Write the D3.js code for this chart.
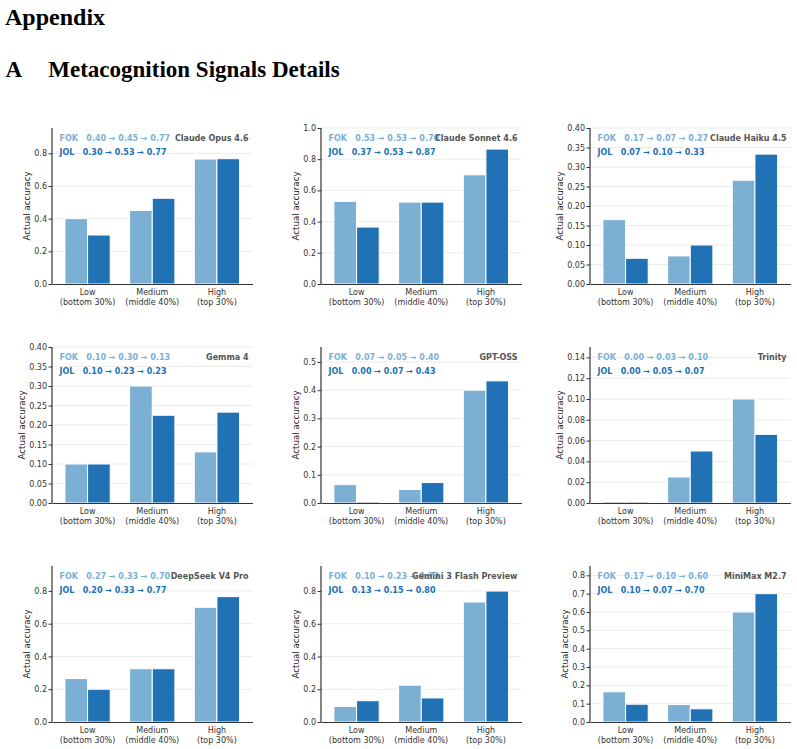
<!DOCTYPE html>
<html>
<head>
<meta charset="utf-8">
<script src="https://cdn.jsdelivr.net/npm/d3@7"></script>
<style>
  body { margin: 0; background: #fff; }
  svg { display: block; }
  text { font-family: "DejaVu Sans", sans-serif; }
  .heading { font-family: "Liberation Serif", "Times New Roman", serif; font-weight: bold; font-size: 23px; fill: #000; }
</style>
</head>
<body>
<svg id="chart" width="797" height="749"></svg>
<script>
// data
const models = ["Claude Opus 4.6", "Claude Sonnet 4.6", "Claude Haiku 4.5",
  "Gemma 4", "GPT-OSS", "Trinity",
  "DeepSeek V4 Pro", "Gemini 3 Flash Preview", "MiniMax M2.7"];
const tiers = ["Low", "Medium", "High"];
const tierRanges = ["(bottom 30%)", "(middle 40%)", "(top 30%)"];

// FOK and JOL accuracy per tier (low, medium, high)
const fokValues = [
  [0.40, 0.45, 0.765], [0.53, 0.525, 0.70], [0.165, 0.072, 0.266],
  [0.10, 0.30, 0.131], [0.065, 0.048, 0.40], [0.0, 0.025, 0.10],
  [0.265, 0.325, 0.70], [0.095, 0.225, 0.733], [0.165, 0.095, 0.60]
];
const jolValues = [
  [0.30, 0.525, 0.767], [0.365, 0.525, 0.865], [0.066, 0.10, 0.333],
  [0.10, 0.225, 0.233], [0.0, 0.0725, 0.433], [0.0, 0.05, 0.066],
  [0.20, 0.325, 0.765], [0.13, 0.147, 0.80], [0.097, 0.072, 0.70]
];
const yMax = [0.955, 1.0, 0.40, 0.40, 0.553, 0.15, 0.952, 0.953, 0.851];
const yStep = [0.2, 0.2, 0.05, 0.05, 0.1, 0.02, 0.2, 0.2, 0.1];
const signals = ["FOK", "JOL"];

const colors = { FOK: "#7bafd4", JOL: "#2171b5" };
const fmt2 = v => (Math.round(v * 100 + 1e-6) / 100).toFixed(2);

const svg = d3.select("#chart");

svg.append("text").attr("class", "heading").attr("x", 5).attr("y", 25)
  .style("font-size", "24px").text("Appendix");
svg.append("text").attr("class", "heading").attr("x", 5.5).attr("y", 77).text("A");
svg.append("text").attr("class", "heading").attr("x", 48.3).attr("y", 77).text("Metacognition Signals Details");

const panelW = 200.5;
const panelH = 156;

models.forEach((model, i) => {
  const col = i % 3;
  const row = Math.floor(i / 3);
  const left = 52 + col * 269;
  const top = 128 + row * 219;

  const g = svg.append("g").attr("transform", `translate(${left},${top})`);

  const x = d3.scaleBand().domain(tiers).range([0, panelW]).paddingInner(0.3).paddingOuter(0.2);
  const xs = d3.scaleBand().domain(signals).range([0, x.bandwidth()]);
  const y = d3.scaleLinear().domain([0, yMax[i]]).range([panelH, 0]);

  const ticks = d3.range(0, yMax[i] + 1e-9, yStep[i]);
  const yFmt = d3.format(yStep[i] < 0.1 ? ".2f" : ".1f");

  // grid
  g.append("g")
    .selectAll("line")
    .data(ticks.filter(t => t > 0))
    .join("line")
    .attr("x1", 0).attr("x2", panelW)
    .attr("y1", d => y(d)).attr("y2", d => y(d))
    .attr("stroke", "#ebebeb").attr("stroke-width", 1);

  // bars
  const rows = tiers.map((t, k) => ({ tier: t, FOK: fokValues[i][k], JOL: jolValues[i][k] }));
  const groups = g.append("g")
    .selectAll("g")
    .data(rows)
    .join("g")
    .attr("transform", d => `translate(${x(d.tier)},0)`);

  groups.selectAll("rect")
    .data(d => signals.map(s => ({ key: s, value: d[s] })))
    .join("rect")
    .attr("x", d => xs(d.key))
    .attr("width", xs.bandwidth())
    .attr("y", d => y(d.value))
    .attr("height", d => panelH - y(d.value))
    .attr("fill", d => colors[d.key])
    .attr("stroke", "#fff")
    .attr("stroke-width", 1);

  // axes
  const yAxis = g.append("g")
    .call(d3.axisLeft(y).tickValues(ticks).tickFormat(yFmt).tickSize(3.5).tickPadding(1.5));
  yAxis.select(".domain").attr("stroke", "#333").attr("stroke-width", 1.2).attr("d", `M0,${panelH}V0`);
  yAxis.selectAll(".tick line").attr("stroke", "#333");
  yAxis.selectAll(".tick text").attr("font-size", 8).attr("fill", "#333").attr("font-family", "DejaVu Sans");

  const xAxis = g.append("g")
    .attr("transform", `translate(0,${panelH})`)
    .call(d3.axisBottom(x).tickSize(0).tickPadding(0));
  xAxis.select(".domain").attr("stroke", "#333").attr("stroke-width", 1.2);
  xAxis.selectAll(".tick text").remove();
  xAxis.selectAll(".tick").each(function(d, k) {
    const t = d3.select(this).append("text")
      .attr("text-anchor", "middle")
      .attr("font-size", 8)
      .attr("fill", "#333")
      .attr("font-family", "DejaVu Sans");
    t.append("tspan").attr("x", 0).attr("y", 11.2).text(tiers[k]);
    t.append("tspan").attr("x", 0).attr("y", 20.6).text(tierRanges[k]);
  });

  // zero-height bars show as a pale stripe on the baseline
  groups.selectAll("line.zero")
    .data(d => signals.map(s => ({ key: s, value: d[s] })).filter(e => e.value === 0))
    .join("line")
    .attr("class", "zero")
    .attr("x1", d => xs(d.key) + 0.5)
    .attr("x2", d => xs(d.key) + xs.bandwidth() - 0.5)
    .attr("y1", panelH).attr("y2", panelH)
    .attr("stroke", "#b5b5b5").attr("stroke-width", 1.3);

  // y label
  let maxW = 0;
  yAxis.selectAll(".tick text").each(function() { maxW = Math.max(maxW, this.getComputedTextLength()); });
  g.append("text")
    .attr("transform", `translate(${-(maxW + 12.7)},${panelH / 2}) rotate(-90)`)
    .attr("text-anchor", "middle")
    .attr("dy", "0.35em")
    .attr("font-size", 8.7)
    .attr("fill", "#222")
    .text("Actual accuracy");

  // annotations
  const trend = vals => vals.map(fmt2).join(" \u2192 ");
  g.append("text")
    .attr("x", 7.5).attr("y", 13)
    .attr("font-size", 8).attr("font-weight", "bold")
    .attr("fill", colors.FOK)
    .style("white-space", "pre")
    .text("FOK   " + trend(fokValues[i]));
  g.append("text")
    .attr("x", 7.5).attr("y", 27)
    .attr("font-size", 8).attr("font-weight", "bold")
    .attr("fill", colors.JOL)
    .style("white-space", "pre")
    .text("JOL   " + trend(jolValues[i]));
  g.append("text")
    .attr("x", panelW - 4).attr("y", 13)
    .attr("text-anchor", "end")
    .attr("font-size", 8).attr("font-weight", "bold")
    .attr("fill", "#555")
    .text(model);
});
</script>
</body>
</html>
